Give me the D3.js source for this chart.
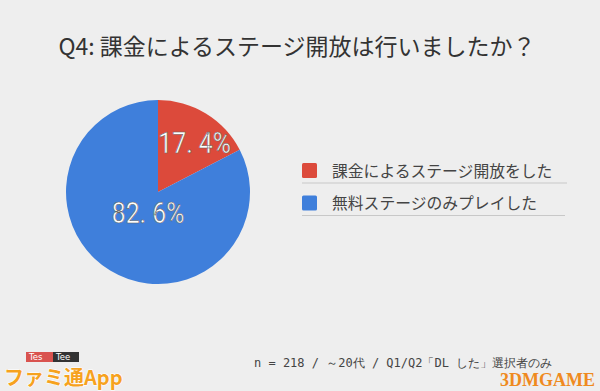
<!DOCTYPE html>
<html><head><meta charset="utf-8">
<script src="https://cdn.jsdelivr.net/npm/d3@7"></script>
<style>
html,body{margin:0;padding:0;background:#eeeeee;}
svg{display:block;}
</style></head>
<body>
<svg id="chart" width="600" height="391"></svg>
<script>
const title = "Q4: 課金によるステージ開放は行いましたか？";
const categories = ["課金によるステージ開放をした", "無料ステージのみプレイした"];
const values = [17.4, 82.6];
const colors = ["#dc4a3b", "#3f7fdb"];
const footnote = "n = 218 / ～20代 / Q1/Q2「DL した」選択者のみ";

const svg = d3.select("#chart");
svg.append("rect").attr("width", 600).attr("height", 391).attr("fill", "#eeeeee");

svg.append("text").attr("x", 297).attr("y", 55)
  .attr("text-anchor", "middle")
  .attr("font-family", "'Noto Sans CJK JP', sans-serif")
  .attr("font-size", 23).attr("fill", "#333")
  .text(title);

const cx = 158, cy = 192, r = 92;
const pie = d3.pie().sort(null).value(d => d)(values);
const arc = d3.arc().innerRadius(0).outerRadius(r);
const g = svg.append("g").attr("transform", `translate(${cx},${cy})`);
g.selectAll("path").data(pie).join("path")
  .attr("d", arc).attr("fill", (d, i) => colors[i]);

const fmt = d3.format(".1f");
const small = d => (d.endAngle - d.startAngle) < Math.PI;
const labelR = d => small(d) ? r * 0.64 : r * 0.25;
g.selectAll("text.lbl").data(pie).join("text").attr("class", "lbl")
  .attr("transform", d => {
    const c = d3.arc().innerRadius(labelR(d)).outerRadius(labelR(d)).centroid(d);
    return `translate(${c[0] + (small(d) ? 6 : 2)},${c[1] + 1}) scale(0.84,1)`;
  })
  .attr("dy", "0.36em")
  .attr("text-anchor", "middle")
  .attr("font-family", "Roboto, sans-serif")
  .attr("font-size", 29.5)
  .attr("fill", "#ffffff").attr("stroke", "#666").attr("stroke-width", 0.6)
  .text(d => fmt(d.data).replace(".", ". ") + "%");

const legend = svg.append("g").attr("transform", "translate(302,163)");
const items = legend.selectAll("g").data(categories).join("g")
  .attr("transform", (d, i) => `translate(0,${i * 32.5})`);
items.append("rect").attr("width", 15).attr("height", 15).attr("rx", 1.5)
  .attr("fill", (d, i) => colors[i]);
items.append("text").attr("x", 30).attr("y", 8).attr("dy", "0.36em")
  .attr("font-family", "'Noto Sans CJK JP', sans-serif")
  .attr("font-size", 15.8).attr("fill", "#444").text(d => d);
items.append("line").attr("x1", 0).attr("x2", (d, i) => i === 0 ? 265 : 263)
  .attr("y1", 20).attr("y2", 20).attr("stroke", "#c8c8c8").attr("stroke-width", 1);

svg.append("text").attr("x", 254).attr("y", 367)
  .attr("font-family", "'DejaVu Sans Mono', monospace")
  .attr("font-size", 12).attr("fill", "#444")
  .text(footnote);

// watermark logos
const wm = svg.append("g");
wm.append("rect").attr("x", 26).attr("y", 352).attr("width", 27).attr("height", 10).attr("fill", "#d9534f");
wm.append("rect").attr("x", 53).attr("y", 352).attr("width", 26).attr("height", 10).attr("fill", "#333");
wm.append("text").attr("x", 29).attr("y", 360).attr("font-family", "'DejaVu Sans', sans-serif").attr("font-size", 8.5).attr("fill", "#fff").text("Tes");
wm.append("text").attr("x", 56).attr("y", 360).attr("font-family", "'DejaVu Sans', sans-serif").attr("font-size", 8.5).attr("fill", "#fff").text("Tee");
wm.append("text").attr("x", 4).attr("y", 385)
  .attr("font-family", "'Noto Sans CJK JP', sans-serif").attr("font-weight", "bold")
  .attr("font-size", 20).attr("fill", "#f6a21e").attr("stroke", "#fff").attr("stroke-width", 1.2)
  .attr("paint-order", "stroke").text("ファミ通App");
wm.append("text").attr("x", 500).attr("y", 386)
  .attr("font-family", "'Liberation Serif', serif").attr("font-weight", "bold")
  .attr("font-size", 18).attr("fill", "#ef8a1f").text("3DMGAME");
</script>
</body></html>
